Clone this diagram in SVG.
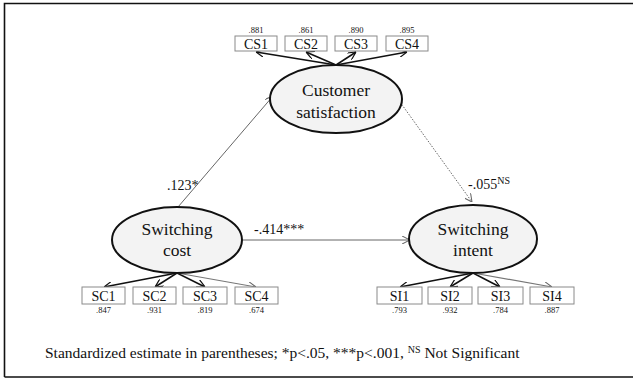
<svg xmlns="http://www.w3.org/2000/svg" width="633" height="380" viewBox="0 0 633 380">
<defs>
<style>
.t{font-family:"Liberation Serif","Times New Roman",Times,"DejaVu Serif",serif;fill:#111}
.lat{fill:#f3f3f3;stroke:#111;stroke-width:2}
.box{fill:#fff;stroke:#8a8a8a;stroke-width:1}
.bt{font-size:14px;text-anchor:middle}
.lt{font-size:17.5px;text-anchor:middle}
.ld{font-size:8.5px;text-anchor:middle}
.pl{font-size:14px}
.m{stroke:#111;stroke-width:1.5;fill:none}
.mg{stroke:#777;stroke-width:1.2;fill:none}
.s{stroke:#666;stroke-width:1;fill:none}
</style>
<marker id="ah" viewBox="0 0 10 10" refX="10" refY="5" markerWidth="8" markerHeight="8" markerUnits="userSpaceOnUse" orient="auto">
<path d="M0,0 L10,5 L0,10" fill="none" stroke="#111" stroke-width="1.5"/>
</marker>
<marker id="ahg" viewBox="0 0 10 10" refX="10" refY="5" markerWidth="8" markerHeight="8" markerUnits="userSpaceOnUse" orient="auto">
<path d="M0,0 L10,5 L0,10" fill="none" stroke="#666" stroke-width="1.3"/>
</marker>
</defs>
<rect width="633" height="380" fill="#fff"/>
<path d="M4.5,377 L4.5,3.5 L640,3.5 M4.5,377 L640,377" fill="none" stroke="#111" stroke-width="1.6"/>

<g id="connectors">
<line class="m" x1="336" y1="65" x2="256" y2="52" marker-end="url(#ah)"/>
<line class="m" x1="336" y1="65" x2="306" y2="52" marker-end="url(#ah)"/>
<line class="m" x1="336" y1="65" x2="356" y2="52" marker-end="url(#ah)"/>
<line class="m" x1="336" y1="65" x2="407" y2="52" marker-end="url(#ah)"/>
<line class="m" x1="177" y1="273" x2="104" y2="287" marker-end="url(#ah)"/>
<line class="m" x1="177" y1="273" x2="155" y2="287" marker-end="url(#ah)"/>
<line class="m" x1="177" y1="273" x2="205" y2="287" marker-end="url(#ah)"/>
<line class="mg" x1="177" y1="273" x2="256" y2="287" marker-end="url(#ahg)"/>
<line class="m" x1="473" y1="273" x2="400" y2="287" marker-end="url(#ah)"/>
<line class="m" x1="473" y1="273" x2="450" y2="287" marker-end="url(#ah)"/>
<line class="m" x1="473" y1="273" x2="500" y2="287" marker-end="url(#ah)"/>
<line class="mg" x1="473" y1="273" x2="552" y2="287" marker-end="url(#ahg)"/>
<line class="s" x1="178" y1="207" x2="273" y2="96" marker-end="url(#ahg)"/>
<line class="s" x1="243" y1="240" x2="410" y2="240" marker-end="url(#ahg)"/>
<line class="s" x1="400" y1="102" x2="472" y2="202" stroke-dasharray="1.5,1.5" marker-end="url(#ahg)"/>
</g>

<g id="cs">
<ellipse class="lat" cx="336" cy="99" rx="66" ry="34"/>
<text class="t lt" x="336" y="96">Customer</text>
<text class="t lt" x="336" y="118">satisfaction</text>
</g>
<g id="sc">
<ellipse class="lat" cx="177" cy="240" rx="65" ry="33"/>
<text class="t lt" x="177" y="235">Switching</text>
<text class="t lt" x="177" y="256">cost</text>
</g>
<g id="si">
<ellipse class="lat" cx="473" cy="239" rx="64" ry="34"/>
<text class="t lt" x="473" y="235">Switching</text>
<text class="t lt" x="473" y="256">intent</text>
</g>

<g id="cs1"><rect class="box" x="235" y="36" width="42" height="15"/><text class="t bt" x="256" y="48.5">CS1</text><text class="t ld" x="256" y="32.5">.881</text></g>
<g id="cs2"><rect class="box" x="285" y="36" width="42" height="15"/><text class="t bt" x="306" y="48.5">CS2</text><text class="t ld" x="306" y="32.5">.861</text></g>
<g id="cs3"><rect class="box" x="335" y="36" width="42" height="15"/><text class="t bt" x="356" y="48.5">CS3</text><text class="t ld" x="356" y="32.5">.890</text></g>
<g id="cs4"><rect class="box" x="386" y="36" width="42" height="15"/><text class="t bt" x="407" y="48.5">CS4</text><text class="t ld" x="407" y="32.5">.895</text></g>

<g id="sc1"><rect class="box" x="82" y="287" width="43" height="17"/><text class="t bt" x="103.5" y="300.5">SC1</text><text class="t ld" x="103.5" y="313">.847</text></g>
<g id="sc2"><rect class="box" x="133" y="287" width="43" height="17"/><text class="t bt" x="154.5" y="300.5">SC2</text><text class="t ld" x="154.5" y="313">.931</text></g>
<g id="sc3"><rect class="box" x="183" y="287" width="44" height="17"/><text class="t bt" x="205" y="300.5">SC3</text><text class="t ld" x="205" y="313">.819</text></g>
<g id="sc4"><rect class="box" x="235" y="287" width="43" height="17"/><text class="t bt" x="256.5" y="300.5">SC4</text><text class="t ld" x="256.5" y="313">.674</text></g>

<g id="si1"><rect class="box" x="377" y="287" width="45" height="17"/><text class="t bt" x="399.5" y="300.5">SI1</text><text class="t ld" x="399.5" y="313">.793</text></g>
<g id="si2"><rect class="box" x="428" y="287" width="44" height="17"/><text class="t bt" x="450" y="300.5">SI2</text><text class="t ld" x="450" y="313">.932</text></g>
<g id="si3"><rect class="box" x="478" y="287" width="45" height="17"/><text class="t bt" x="500.5" y="300.5">SI3</text><text class="t ld" x="500.5" y="313">.784</text></g>
<g id="si4"><rect class="box" x="530" y="287" width="44" height="17"/><text class="t bt" x="552" y="300.5">SI4</text><text class="t ld" x="552" y="313">.887</text></g>

<g id="labels">
<text class="t pl" x="167" y="190">.123*</text>
<text class="t pl" x="254" y="234">-.414***</text>
<text class="t pl" x="468" y="189">-.055<tspan font-size="10" dy="-5">NS</tspan></text>
<text class="t" font-size="15.5" x="45" y="358">Standardized estimate in parentheses; *p&lt;.05, ***p&lt;.001, <tspan font-size="10" dy="-5">NS</tspan><tspan dy="5"> Not Significant</tspan></text>
</g>
</svg>
